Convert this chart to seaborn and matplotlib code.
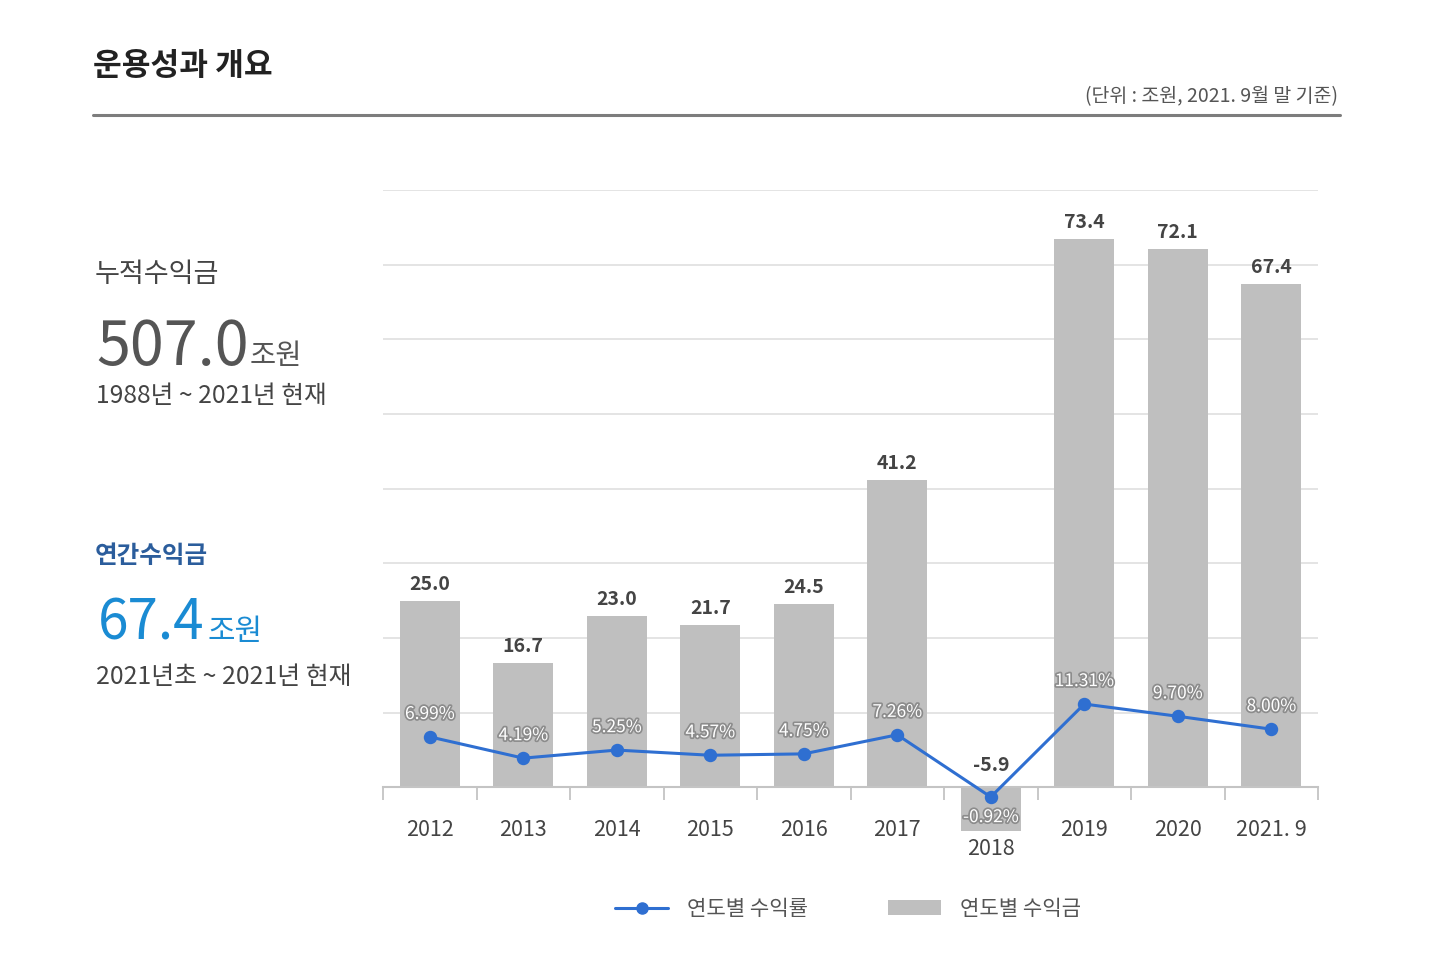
import numpy as np
import pandas as pd
import matplotlib
matplotlib.use('Agg')
import matplotlib.pyplot as plt
import matplotlib.patheffects as pe
from matplotlib.lines import Line2D
from matplotlib.patches import Patch
from matplotlib.transforms import ScaledTranslation
import seaborn as sns

# ---------------- data ----------------
years = ['2012', '2013', '2014', '2015', '2016', '2017', '2018', '2019', '2020', '2021. 9']
amounts = [25.0, 16.7, 23.0, 21.7, 24.5, 41.2, -5.9, 73.4, 72.1, 67.4]
rates = [6.99, 4.19, 5.25, 4.57, 4.75, 7.26, -0.92, 11.31, 9.70, 8.00]

title = "운용성과 개요"
unit_note = "(단위 : 조원, 2021. 9월 말 기준)"
cum_label = "누적수익금"
cum_value = "507.0"
cum_unit = "조원"
cum_period = "1988년 ~ 2021년 현재"
ann_label = "연간수익금"
ann_value = "67.4"
ann_unit = "조원"
ann_period = "2021년초 ~ 2021년 현재"
legend_labels = ["연도별 수익률", "연도별 수익금"]

# ---------------- style ----------------
sns.set_theme(style='white')
plt.rcParams['font.family'] = ['Noto Sans CJK KR', 'DejaVu Sans']
plt.rcParams['axes.unicode_minus'] = False

BAR_C = '#bfbfbf'
LINE_C = '#2f6fd1'
TXT_C = '#444444'
BLUE = '#1a8bd3'

W, H = 1440, 958
fig = plt.figure(figsize=(14.4, 9.58), dpi=100)


def fx(px):
    return px / W


def fy(py):
    return 1 - py / H


ax = fig.add_axes([fx(383), fy(832), fx(1318) - fx(383), fy(190) - fy(832)])
df = pd.DataFrame({'year': years, 'amount': amounts, 'rate': rates})

sns.barplot(data=df, x='year', y='amount', color=BAR_C, width=0.64,
            linewidth=0, saturation=1, ax=ax, zorder=2)

ax2 = ax.twinx()
sns.pointplot(data=df, x='year', y='rate', ax=ax2, color=LINE_C,
              markers='o', errorbar=None, markersize=8, linewidth=2.2)

ax.set_ylim(-6, 80)
ax.set_xlim(-0.5, len(years) - 0.5)
ax2.set_ylim(-5.53, 78.95)
ax2.set_xlim(-0.5, len(years) - 0.5)

ax.set_yticks(np.arange(0, 81, 10))
ax.set_yticklabels([])
ax.tick_params(axis='y', length=0)
ax.yaxis.grid(True, color='#e2e2e2', lw=1.3)
ax.xaxis.grid(False)
ax.set_axisbelow(True)
for s in ['top', 'left', 'right']:
    ax.spines[s].set_visible(False)
    ax2.spines[s].set_visible(False)
ax2.spines['bottom'].set_visible(False)
ax.spines['bottom'].set_position(('data', 0))
ax.spines['bottom'].set_color('#c4c4c4')
ax.spines['bottom'].set_linewidth(1.5)
ax.spines['bottom'].set_zorder(3)
ax2.set_yticks([])
ax2.set_ylabel('')
ax.set_xlabel('')
ax.set_ylabel('')

ax.set_xticks(np.arange(-0.5, len(years), 1), minor=True)
ax.set_xticks(np.arange(len(years)))
ax.set_xticklabels(years)
ax.tick_params(axis='x', which='minor', length=9.5, width=1.3,
               color='#c4c4c4', direction='out', bottom=True)
ax.tick_params(axis='x', which='major', length=0, pad=23,
               labelsize=15.5, labelcolor=TXT_C)
lbls = ax.get_xticklabels()
lbls[6].set_transform(lbls[6].get_transform() +
                      ScaledTranslation(0, -19 / 100, fig.dpi_scale_trans))

# bar value labels
for i, v in enumerate(amounts):
    ax.annotate(f"{v:.1f}", xy=(i, max(v, 0)), xytext=(0, 5 if v >= 0 else 9),
                textcoords='offset points', ha='center', va='bottom',
                fontsize=14, fontweight='bold', color=TXT_C, zorder=5)

# rate labels
for i, r in enumerate(rates):
    ax2.annotate(f"{r:.2f}%", xy=(i, r), xytext=(0, 16.5 if r >= 0 else -14.5),
                 textcoords='offset points', ha='center', va='center',
                 fontsize=12.5, color='white', zorder=6,
                 path_effects=[pe.withStroke(linewidth=2.5, foreground='#8c8c8c')])

# ---------------- header & side panel ----------------
fig.text(fx(93), fy(66), title, fontsize=22.5, fontweight='bold', color='#222222', va='center')
fig.add_artist(Line2D([fx(93), fx(1340)], [fy(115), fy(115)], transform=fig.transFigure,
                      color='#7d7d7d', lw=2.2))
fig.text(fx(1338), fy(97), unit_note, fontsize=14, color='#555555', ha='right', va='center')

fig.text(fx(95), fy(275), cum_label, fontsize=19.5, color=TXT_C, va='center')
t1 = fig.text(fx(96), fy(365), cum_value, fontsize=44, color='#555555', va='baseline')
fig.text(fx(96), fy(396), cum_period, fontsize=17.8, color=TXT_C, va='center')

fig.text(fx(95), fy(556), ann_label, fontsize=17.7, color='#2b5d9c', fontweight='semibold', va='center')
t2 = fig.text(fx(98), fy(640), ann_value, fontsize=39.5, color=BLUE, va='baseline')
fig.text(fx(96), fy(677), ann_period, fontsize=17.9, color=TXT_C, va='center')

fig.canvas.draw()
r = fig.canvas.get_renderer()
b1 = t1.get_window_extent(r)
b2 = t2.get_window_extent(r)
fig.text((b1.x1 + 1) / W, fy(364), cum_unit, fontsize=20.5, color='#555555', va='baseline')
fig.text((b2.x1 + 3) / W, fy(640), ann_unit, fontsize=21.5, color=BLUE, va='baseline')

# legend
handles = [Line2D([], [], color=LINE_C, lw=2.2, marker='o', markersize=8),
           Patch(facecolor=BAR_C, edgecolor='none')]
fig.legend(handles, legend_labels, loc='center', bbox_to_anchor=(fx(848), fy(909)),
           ncol=2, frameon=False, fontsize=15.2, labelcolor='#555555',
           handlelength=2.5, handletextpad=0.9, columnspacing=3.8)

fig.savefig('out.png', dpi=100)
